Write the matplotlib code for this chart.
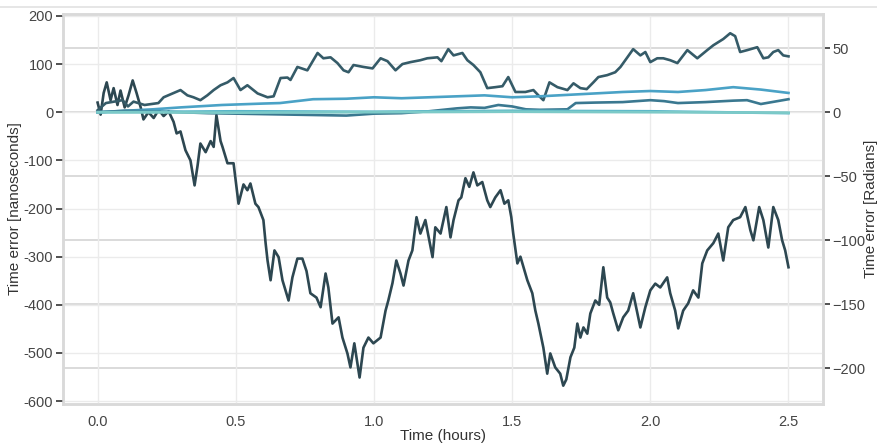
import matplotlib.pyplot as plt
from matplotlib.lines import Line2D
from matplotlib.ticker import FuncFormatter, MultipleLocator

plt.rcParams['font.family'] = ['Liberation Sans', 'DejaVu Sans']

# main clock (nanoseconds)
t_main = [0.0, 0.011, 0.022, 0.033, 0.047, 0.058, 0.072, 0.083, 0.098, 0.112, 0.127, 0.141,
          0.156, 0.166, 0.184, 0.203, 0.221, 0.239, 0.257, 0.275, 0.286, 0.300, 0.318, 0.336,
          0.351, 0.362, 0.372, 0.391, 0.409, 0.420, 0.430, 0.445, 0.452, 0.470, 0.492, 0.510,
          0.528, 0.542, 0.553, 0.571, 0.582, 0.600, 0.608, 0.615, 0.626, 0.640, 0.655, 0.669,
          0.691, 0.705, 0.723, 0.741, 0.756, 0.770, 0.792, 0.807, 0.825, 0.835, 0.850, 0.872,
          0.886, 0.904, 0.915, 0.929, 0.948, 0.962, 0.980, 0.998, 1.024, 1.042, 1.052, 1.067,
          1.081, 1.096, 1.107, 1.125, 1.139, 1.154, 1.168, 1.186, 1.212, 1.222, 1.241, 1.262,
          1.277, 1.288, 1.306, 1.316, 1.331, 1.345, 1.360, 1.374, 1.392, 1.410, 1.421, 1.439,
          1.458, 1.472, 1.486, 1.497, 1.504, 1.519, 1.530, 1.555, 1.573, 1.584, 1.595, 1.613,
          1.627, 1.638, 1.656, 1.674, 1.685, 1.696, 1.711, 1.725, 1.736, 1.747, 1.758, 1.772,
          1.783, 1.801, 1.815, 1.830, 1.844, 1.855, 1.866, 1.884, 1.902, 1.920, 1.938, 1.964,
          1.982, 2.000, 2.018, 2.036, 2.061, 2.072, 2.090, 2.101, 2.119, 2.137, 2.155, 2.174,
          2.188, 2.206, 2.228, 2.246, 2.264, 2.282, 2.300, 2.325, 2.344, 2.362, 2.373, 2.394,
          2.409, 2.427, 2.445, 2.463, 2.477, 2.488, 2.500]
v_main = [20, -5, 40, 62, 25, 50, 15, 45, 10, 35, 66, 40,
          10, -15, 0, -12, 5, -8, 2, -20, -44, -40, -79, -100,
          -152, -110, -65, -83, -60, -72, -6, -60, -72, -106, -106, -190,
          -150, -162, -148, -190, -197, -224, -272, -308, -349, -287, -301, -349,
          -391, -343, -304, -304, -330, -376, -385, -405, -335, -364, -439, -426,
          -468, -501, -530, -480, -551, -489, -468, -480, -468, -412, -391, -355,
          -308, -335, -360, -308, -287, -218, -252, -224, -301, -239, -252, -197,
          -260, -224, -183, -177, -137, -155, -125, -152, -145, -183, -197, -177,
          -162, -190, -183, -218, -252, -314, -300, -349, -376, -412, -439, -489,
          -543, -501, -530, -543, -568, -555, -509, -489, -439, -468, -447, -460,
          -418, -391, -400, -322, -385, -395, -418, -453, -426, -412, -376, -447,
          -405, -370, -356, -364, -343, -376, -412, -449, -412, -397, -370, -385,
          -314, -287, -272, -252, -308, -239, -224, -218, -197, -245, -266, -197,
          -224, -281, -197, -224, -266, -287, -322]

# upper walk
t_up = [0.0, 0.03, 0.09, 0.11, 0.13, 0.17, 0.22, 0.239, 0.300, 0.325, 0.347, 0.372, 0.397,
        0.420, 0.445, 0.470, 0.492, 0.517, 0.542, 0.579, 0.615, 0.637, 0.662, 0.687, 0.698,
        0.723, 0.759, 0.796, 0.817, 0.843, 0.868, 0.890, 0.908, 0.926, 0.962, 0.995, 1.024,
        1.049, 1.078, 1.103, 1.132, 1.168, 1.193, 1.230, 1.244, 1.269, 1.288, 1.320, 1.338,
        1.360, 1.385, 1.410, 1.439, 1.465, 1.486, 1.512, 1.548, 1.577, 1.595, 1.613, 1.635,
        1.664, 1.700, 1.722, 1.747, 1.770, 1.794, 1.812, 1.844, 1.873, 1.892, 1.917, 1.938,
        1.964, 1.982, 2.000, 2.025, 2.047, 2.072, 2.098, 2.134, 2.170, 2.206, 2.228, 2.264,
        2.289, 2.307, 2.325, 2.351, 2.387, 2.409, 2.427, 2.445, 2.463, 2.481, 2.500]
v_up = [4, 19, 25, 12, 22, 15, 19, 31, 46, 35, 31, 25, 35,
        46, 56, 62, 71, 46, 56, 39, 31, 33, 71, 72, 67,
        94, 87, 123, 112, 114, 102, 87, 83, 98, 94, 91, 112,
        106, 87, 100, 104, 108, 112, 114, 106, 131, 118, 123, 108,
        98, 83, 50, 52, 54, 73, 42, 42, 46, 35, 25, 62,
        52, 46, 60, 50, 48, 62, 73, 77, 83, 94, 114, 131,
        118, 125, 104, 112, 112, 108, 102, 129, 112, 129, 139, 152,
        164, 158, 125, 129, 135, 112, 114, 125, 129, 118, 116]

# light blue drift
t_blue = [0.0, 0.1, 0.2, 0.3, 0.45, 0.6, 0.66, 0.78, 0.9, 1.0, 1.1, 1.2, 1.3, 1.4, 1.5,
          1.6, 1.7, 1.8, 1.9, 2.0, 2.1, 2.2, 2.3, 2.4, 2.5]
v_blue = [0, 3, 6, 10, 15, 18, 19, 27, 28, 31, 29, 31, 33, 35, 31,
          33, 36, 39, 42, 44, 42, 46, 52, 47, 40]

# teal drift
t_teal = [0.0, 0.1, 0.2, 0.3, 0.4, 0.5, 0.6, 0.7, 0.8, 0.9, 1.0, 1.1, 1.2, 1.3, 1.35, 1.4,
          1.45, 1.5, 1.55, 1.6, 1.7, 1.73, 1.8, 1.9, 2.0, 2.05, 2.1, 2.2, 2.3, 2.35, 2.4,
          2.45, 2.5]
v_teal = [0, 3, 2, 0, -2, -3, -4, -5, -6, -7, -3, -2, 2, 8, 10, 9,
          15, 12, 6, 5, 6, 19, 20, 21, 25, 23, 19, 21, 24, 25, 17,
          22, 27]

# near-zero traces
t_flat = [0.0, 0.5, 1.0, 1.5, 2.0, 2.5]
v_cyan = [0, 2, 1, 3, 2, -2]
v_pale = [0, -1, 0, 1, 0, -1]

fig = plt.figure(figsize=(8.78, 4.44), dpi=100)
ax = fig.add_axes([0.0718, 0.0901, 0.8656, 0.8784])
ax2 = ax.twinx()

ax.set_zorder(ax2.get_zorder() + 1)
ax.patch.set_visible(False)
ax2.set_facecolor('white')

ax.plot(t_main, v_main, color='#2d4751', lw=1.9)
ax.plot(t_up, v_up, color='#355b68', lw=1.9)
ax.plot(t_blue, v_blue, color='#4aa2c6', lw=1.9)
ax.plot(t_teal, v_teal, color='#3a7890', lw=1.9)
ax.plot(t_flat, v_cyan, color='#58b6c8', lw=1.9)
ax.plot(t_flat, v_pale, color='#7ccac8', lw=1.9)

ax.set_xlim(-0.125, 2.625)
ax.set_ylim(-606, 204)
ax2.set_ylim(-228, 76.6)

ax.xaxis.set_major_locator(MultipleLocator(0.5))
ax.yaxis.set_major_locator(MultipleLocator(100))
ax2.yaxis.set_major_locator(MultipleLocator(50))
ax.yaxis.set_major_formatter(FuncFormatter(lambda v, p: f"{v:.0f}"))
ax.xaxis.set_major_formatter(FuncFormatter(lambda v, p: f"{v:.1f}"))

ax.grid(True, color='#ebebeb', lw=1.0)
ax2.grid(True, axis='y', color='#d4d4d4', lw=1.2)
ax2.xaxis.grid(False)

for a in (ax, ax2):
    for s in a.spines.values():
        s.set_color('#d9d9d9')
        s.set_linewidth(1.8)

ax.tick_params(axis='y', length=5, width=1.2, color='#333333', labelsize=10.5,
               labelcolor='#444444', pad=2)
ax.tick_params(axis='x', length=0, labelsize=10.5, labelcolor='#444444', pad=8)
ax2.tick_params(axis='y', length=5, width=1.2, color='#333333', labelsize=10.5,
                labelcolor='#444444', pad=1.5)

ax.set_xlabel('Time (hours)', fontsize=11, color='#333333', labelpad=0)
ax.set_ylabel('Time error [nanoseconds]', fontsize=11, color='#333333', labelpad=1)
ax2.set_ylabel('Time error [Radians]', fontsize=11, color='#333333', labelpad=-1)

fig.add_artist(Line2D([0, 1], [1 - 7 / 444] * 2, transform=fig.transFigure,
                      color='#e2e2e2', lw=1.2))

fig.savefig('out.png', dpi=100)
